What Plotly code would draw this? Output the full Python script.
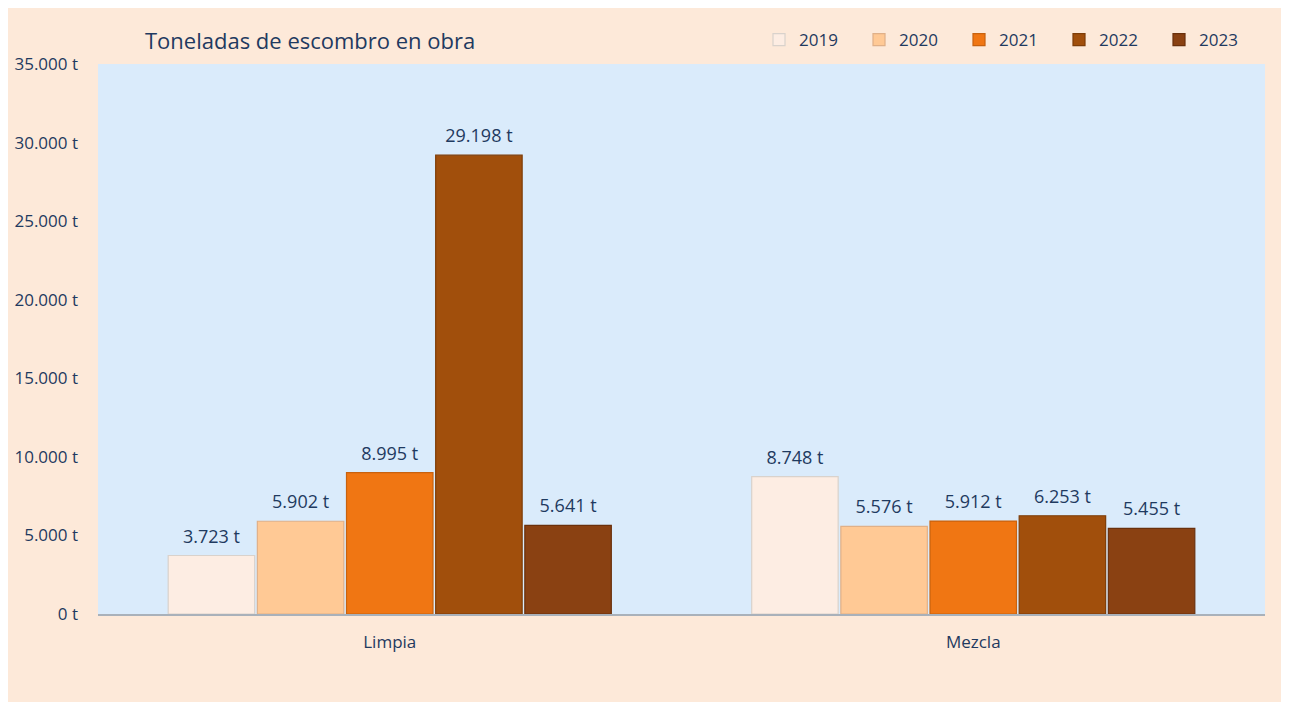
import plotly.graph_objects as go

categories = ["Limpia", "Mezcla"]
years = ["2019", "2020", "2021", "2022", "2023"]
values = {
    "2019": [3723, 8748],
    "2020": [5902, 5576],
    "2021": [8995, 5912],
    "2022": [29198, 6253],
    "2023": [5641, 5455],
}
colors = {
    "2019": "#FDEDE3",
    "2020": "#FFC995",
    "2021": "#F07613",
    "2022": "#A14F0C",
    "2023": "#8A4112",
}
edge = {
    "2019": "#D9D2CC",
    "2020": "#E0B088",
    "2021": "#C8620F",
    "2022": "#7E3D08",
    "2023": "#6A300C",
}
text_color = "#1F3A60"
font_family = "Open Sans"

# the page puts the figure 8 px in from the top-left corner
OFF = 8
W, H = 1289 - OFF, 702 - OFF
ML, MR, MT, MB = 98 - OFF, 24, 64 - OFF, 88
PW, PH = W - ML - MR, H - MT - MB


def px_x(x):
    return (x - OFF - ML) / PW


def px_y(y):
    return (H - MB - (y - OFF)) / PH


fig = go.Figure()
for y in years:
    fig.add_trace(go.Bar(
        name=y,
        x=categories,
        y=values[y],
        marker=dict(color=colors[y], line=dict(color=edge[y], width=1.2)),
    ))
for y in years:
    fig.add_trace(go.Scatter(
        name=y,
        x=categories,
        y=values[y],
        mode="markers+text",
        marker=dict(size=12, opacity=0),
        texttemplate="%{y:,.0f} t",
        textposition="top center",
        cliponaxis=False,
        showlegend=False,
        hoverinfo="skip",
        textfont=dict(family=font_family, size=18, color=text_color),
    ))

fig.update_layout(
    width=W,
    height=H,
    barmode="group",
    bargap=0.236,
    bargroupgap=0.03,
    scattermode="group",
    scattergap=0.236,
    separators=",.",
    paper_bgcolor="#FDE9D9",
    plot_bgcolor="#DAEBFB",
    margin=dict(l=ML, r=MR, t=MT, b=MB, autoexpand=False),
    font=dict(family=font_family, color=text_color),
    showlegend=True,
    legend=dict(
        orientation="h",
        x=px_x(759), y=px_y(40), xanchor="left", yanchor="middle",
        entrywidth=55, entrywidthmode="pixels",
        font=dict(size=17, color=text_color),
        bgcolor="rgba(0,0,0,0)",
        traceorder="normal",
    ),
    annotations=[dict(
        text="Toneladas de escombro en obra",
        xref="paper", yref="paper",
        x=px_x(143), y=px_y(40),
        xanchor="left", yanchor="middle",
        showarrow=False,
        font=dict(size=22, color=text_color, family=font_family),
    )],
)

fig.update_yaxes(
    range=[0, 35000],
    dtick=5000,
    tickformat=",.0f",
    ticksuffix=" t",
    showgrid=False,
    zeroline=False,
    showline=False,
    automargin=False,
    ticklabelstandoff=19,
    tickfont=dict(size=17, color=text_color, family=font_family),
)
fig.update_xaxes(
    showline=True,
    linecolor="#A9B1BA",
    linewidth=2,
    showgrid=False,
    automargin=False,
    ticklabelstandoff=12,
    tickfont=dict(size=17, color=text_color, family=font_family),
)

fig.write_html("out.html")
